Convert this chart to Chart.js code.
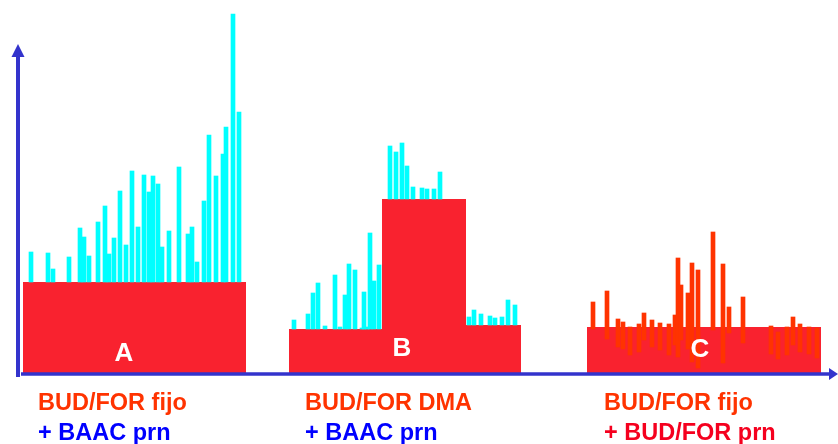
<!DOCTYPE html>
<html>
<head>
<meta charset="utf-8">
<script src="https://cdn.jsdelivr.net/npm/chart.js@4/dist/chart.umd.min.js"></script>
<style>
  html, body { margin: 0; padding: 0; background: #ffffff; }
  #wrap { width: 838px; height: 444px; }
</style>
</head>
<body>
<div id="wrap"><canvas id="c" width="838" height="444"></canvas></div>
<script>
// Maintenance dose steps (day start, day end, daily dose level)
const stepStart = [3, 136, 182.5, 224.5, 285];
const stepEnd   = [114.5, 182.5, 224.5, 252, 402];
const stepLevel = [9.2, 4.5, 17.5, 4.9, 4.7];

// Regimen A: as-needed reliever use on top of fixed maintenance
const relA_day = [7, 15.5, 18, 26, 31.5, 33.5, 36, 40.5, 44, 46, 48.5, 51.5, 54.5, 57.5, 60.5, 63.5,
                  66, 68, 70.5, 72.5, 76, 81, 85.5, 87.5, 90, 93.5, 96, 99.5, 103, 104.5, 108, 111];
const relA_top = [12.2, 12.1, 10.5, 11.7, 14.6, 13.7, 11.8, 15.2, 16.8, 12.0, 13.6, 18.3, 12.9, 20.3, 14.7, 19.9,
                  18.2, 19.8, 19.0, 12.7, 14.3, 20.7, 14.0, 14.7, 11.2, 17.3, 23.9, 19.8, 22.0, 24.7, 36.0, 26.2];

// Regimen B: reliever use with adjustable maintenance
const relB_day = [138.5, 145.5, 148, 150.5, 154, 159, 161.5, 164, 166, 169, 172.5, 173.5, 175, 176.5, 178.5, 181,
                  186.5, 189.5, 192.5, 195, 198, 202.5, 205, 208.5, 211.5,
                  226, 228.5, 232, 236.5, 239, 242.5, 245.5, 249];
const relB_top = [5.4, 6.0, 8.1, 9.1, 4.8, 9.9, 4.7, 7.9, 11.0, 10.4, 4.6, 8.2, 4.7, 14.1, 9.3, 10.9,
                  22.8, 22.2, 23.1, 20.8, 18.7, 18.6, 18.5, 18.5, 20.2,
                  5.7, 6.4, 6.0, 5.8, 5.6, 5.7, 7.4, 6.9];

// Regimen C: maintenance plus as-needed use of the same inhaler (daily range)
const relC_day  = [288, 295, 300.5, 303, 306.5, 311, 313.5, 317.5, 321.5, 326, 329, 330.5, 332, 335.5,
                   337.5, 340.5, 348, 353, 356, 363, 377, 380.5, 385, 388, 391.5, 396, 400];
const relC_high = [7.2, 8.3, 5.5, 5.2, 4.7, 5.0, 6.1, 5.4, 5.1, 5.0, 5.9, 11.6, 8.9, 8.1,
                   11.1, 10.4, 14.2, 11.0, 6.7, 7.7, 4.8, 4.2, 4.7, 5.7, 5.0, 4.7, 4.6];
const relC_low  = [4.5, 3.5, 2.7, 2.5, 1.9, 2.2, 3.4, 2.7, 2.4, 1.9, 2.9, 1.7, 3.4, 2.5,
                   1.2, 0.6, 4.4, 1.1, 4.1, 3.1, 2.0, 1.5, 1.9, 2.9, 2.2, 2.0, 1.6];

// Text
const panelLetters = ['A', 'B', 'C'];
const captionLine1 = ['BUD/FOR fijo', 'BUD/FOR DMA', 'BUD/FOR fijo'];
const captionLine2 = ['+ BAAC prn', '+ BAAC prn', '+ BUD/FOR prn'];

// ---- layout & style ----
const RED = '#F9222F';
const CYAN = '#00FFFF';
const ORANGE = '#FF3300';
const AXIS_BLUE = '#3333CC';
const letterPos = [[53.5, 2.0], [192.5, 2.5], [341.5, 2.4]];   // data coords
const captionX = [38, 305, 604];                                 // px
const line1Color = ['#FF3300', '#FF3300', '#FF3300'];
const line2Color = ['#0000FF', '#0000FF', '#F5001E'];
const FONT = '"Liberation Sans", Arial, sans-serif';

function levelAt(day) {
  for (let i = 0; i < stepStart.length; i++) {
    if (day >= stepStart[i] && day <= stepEnd[i]) return stepLevel[i];
  }
  return 0;
}

const datasets = [];

// maintenance blocks as filled lines
for (let i = 0; i < stepStart.length; i++) {
  datasets.push({
    type: 'line',
    data: [{ x: stepStart[i], y: stepLevel[i] }, { x: stepEnd[i], y: stepLevel[i] }],
    borderWidth: 0,
    borderColor: 'rgba(0,0,0,0)',
    backgroundColor: RED,
    pointRadius: 0,
    fill: 'origin',
    tension: 0,
    order: 2
  });
}

const barCommon = { type: 'bar', grouped: false, barThickness: 4, borderWidth: 0, order: 1 };

datasets.push(Object.assign({}, barCommon, {
  data: relA_day.map((d, i) => ({ x: d, y: [levelAt(d), relA_top[i]] })),
  backgroundColor: CYAN
}));
datasets.push(Object.assign({}, barCommon, {
  data: relB_day.map((d, i) => ({ x: d, y: [levelAt(d), relB_top[i]] })),
  backgroundColor: CYAN
}));
datasets.push(Object.assign({}, barCommon, {
  data: relC_day.map((d, i) => ({ x: d, y: [relC_low[i], relC_high[i]] })),
  backgroundColor: ORANGE
}));

const decorations = {
  id: 'decorations',
  afterDatasetsDraw(chart) {
    const ctx = chart.ctx;
    const area = chart.chartArea;
    const xs = chart.scales.x, ys = chart.scales.y;
    ctx.save();

    // panel letters
    ctx.fillStyle = '#ffffff';
    ctx.font = 'bold 26px ' + FONT;
    ctx.textAlign = 'center';
    ctx.textBaseline = 'middle';
    panelLetters.forEach((t, i) => {
      ctx.fillText(t, xs.getPixelForValue(letterPos[i][0]), ys.getPixelForValue(letterPos[i][1]));
    });

    // axes with arrow heads
    ctx.fillStyle = AXIS_BLUE;
    ctx.strokeStyle = AXIS_BLUE;
    const ax = area.left + 1, ay = area.bottom;
    ctx.lineWidth = 4;
    ctx.beginPath();
    ctx.moveTo(ax, ay + 3);
    ctx.lineTo(ax, 56);
    ctx.stroke();
    ctx.beginPath();
    ctx.moveTo(ax, 44);
    ctx.lineTo(ax - 6.5, 57);
    ctx.lineTo(ax + 6.5, 57);
    ctx.closePath();
    ctx.fill();

    ctx.lineWidth = 3.5;
    ctx.beginPath();
    ctx.moveTo(area.left + 4, ay);
    ctx.lineTo(area.right - 7, ay);
    ctx.stroke();
    ctx.beginPath();
    ctx.moveTo(area.right + 1, ay);
    ctx.lineTo(area.right - 8, ay - 6);
    ctx.lineTo(area.right - 8, ay + 6);
    ctx.closePath();
    ctx.fill();

    // captions
    ctx.font = 'bold 23.5px ' + FONT;
    ctx.textAlign = 'left';
    ctx.textBaseline = 'alphabetic';
    captionLine1.forEach((t, i) => {
      ctx.fillStyle = line1Color[i];
      ctx.fillText(t, captionX[i], 410);
      ctx.fillStyle = line2Color[i];
      ctx.fillText(captionLine2[i], captionX[i], 440);
    });
    ctx.restore();
  }
};

new Chart(document.getElementById('c'), {
  type: 'bar',
  data: { datasets },
  options: {
    responsive: false,
    devicePixelRatio: 1,
    animation: false,
    layout: { padding: { left: 17, right: 1, top: 4, bottom: 70 } },
    plugins: { legend: { display: false }, tooltip: { enabled: false } },
    scales: {
      x: { type: 'linear', min: 0, max: 410, offset: false, display: false },
      y: { type: 'linear', min: 0, max: 37, display: false }
    }
  },
  plugins: [decorations]
});
</script>
</body>
</html>
